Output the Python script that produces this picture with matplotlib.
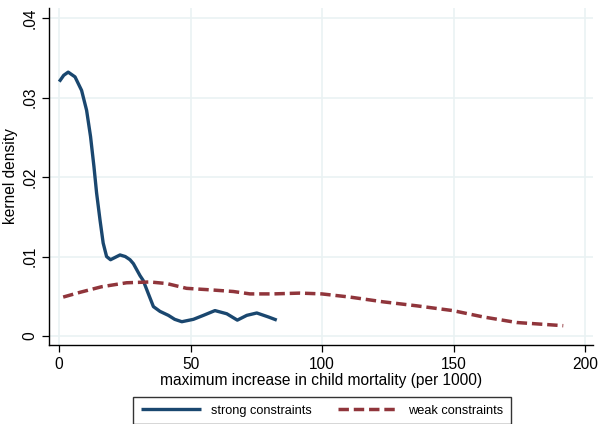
"""Kernel density of maximum increase in child mortality"""

import matplotlib
matplotlib.use("Agg")
import matplotlib.pyplot as plt

plt.rcParams['font.family'] = ['Liberation Sans', 'DejaVu Sans']

# strong constraints
strong_x = [0.1, 1.8, 3.5, 6.1, 8.6, 10.5, 12.0, 13.3, 14.3, 15.6, 16.8, 18.1,
            19.6, 21.4, 23.2, 25.2, 27.0, 28.3, 30.8, 32.0, 34.0, 35.9, 38.4,
            41.6, 44.0, 46.7, 51.1, 54.9, 59.3, 63.8, 67.8, 71.4, 75.2, 79.6,
            82.8]
strong_y = [0.0320, 0.0328, 0.0332, 0.0326, 0.0309, 0.0284, 0.0251, 0.0213,
            0.0180, 0.0146, 0.0117, 0.0100, 0.0096, 0.0099, 0.0102, 0.0100,
            0.0096, 0.0091, 0.0076, 0.0070, 0.0053, 0.0037, 0.0031, 0.0026,
            0.0021, 0.0018, 0.0021, 0.0026, 0.0032, 0.0028, 0.0020, 0.0026,
            0.0029, 0.0024, 0.0020]

# weak constraints
weak_x = [1.6, 8.0, 16.2, 25.7, 34.6, 41.0, 48.5, 58.0, 66.3, 72.6, 81.5,
          91.6, 99.9, 110.6, 123.3, 136.0, 149.7, 161.3, 174.0, 182.9, 191.7]
weak_y = [0.0049, 0.0055, 0.0062, 0.0067, 0.0068, 0.0066, 0.0060, 0.0058,
          0.0056, 0.0053, 0.0053, 0.0054, 0.0053, 0.0049, 0.0043, 0.0038,
          0.0032, 0.0024, 0.0017, 0.0015, 0.0013]

x_ticks = [0, 50, 100, 150, 200]
y_ticks = [0, 0.01, 0.02, 0.03, 0.04]
y_labels = ['0', '.01', '.02', '.03', '.04']

fig = plt.figure(figsize=(5.98, 4.24), dpi=100)
ax = fig.add_axes([0.0819, 0.1863, 0.9097, 0.7947])

ax.grid(True, color='#eaf2f3', linewidth=1.2)
ax.set_axisbelow(True)

ax.plot(strong_x, strong_y, color='#1a476f', linewidth=2.4,
        solid_capstyle='butt', solid_joinstyle='round', label='strong constraints')
ax.plot(weak_x, weak_y, color='#90353b', linewidth=2.5,
        linestyle=(0, (3, 1.4)), label='weak constraints')

ax.set_xlim(-3.8, 203)
ax.set_ylim(-0.00113, 0.04126)
ax.set_xticks(x_ticks)
ax.set_yticks(y_ticks)
ax.set_yticklabels(y_labels, rotation=90, va='center')
ax.tick_params(direction='out', length=5, width=0.9, labelsize=11.2, colors='black')

for side in ['top', 'right']:
    ax.spines[side].set_visible(False)
for side in ['left', 'bottom']:
    ax.spines[side].set_linewidth(1.0)

ax.set_xlabel('maximum increase in child mortality (per 1000)', fontsize=11.2, labelpad=1)
ax.set_ylabel('kernel density', fontsize=11.2, labelpad=3)

leg = fig.legend(loc='upper center', bbox_to_anchor=(322 / 598, 1 - 397 / 424),
                 ncol=2, fontsize=9.2, frameon=True, fancybox=False,
                 handlelength=4.7, handletextpad=0.8, columnspacing=2.0,
                 borderpad=0.6, borderaxespad=0)
leg.get_frame().set_edgecolor('black')
leg.get_frame().set_linewidth(1.0)

plt.savefig('out.png', dpi=100)
